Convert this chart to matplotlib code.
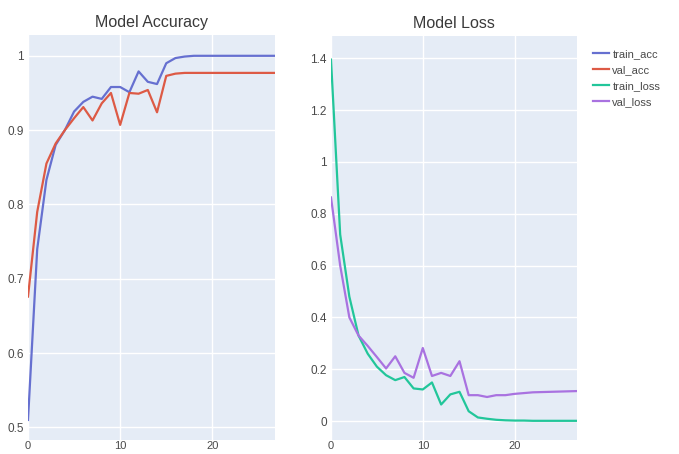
import matplotlib
matplotlib.use("Agg")
import matplotlib.pyplot as plt

# values, one per epoch (0..27)
epochs = list(range(28))

train_acc = [0.51, 0.74, 0.833, 0.88, 0.90, 0.925, 0.938, 0.945, 0.942, 0.958,
             0.958, 0.951, 0.979, 0.965, 0.962, 0.99, 0.997, 0.999, 1.0, 1.0,
             1.0, 1.0, 1.0, 1.0, 1.0, 1.0, 1.0, 1.0]
val_acc = [0.676, 0.79, 0.855, 0.882, 0.90, 0.916, 0.931, 0.913, 0.936, 0.95,
           0.907, 0.95, 0.949, 0.954, 0.924, 0.973, 0.976, 0.977, 0.977, 0.977,
           0.977, 0.977, 0.977, 0.977, 0.977, 0.977, 0.977, 0.977]
train_loss = [1.395, 0.72, 0.48, 0.33, 0.26, 0.21, 0.177, 0.158, 0.17, 0.126,
              0.122, 0.149, 0.064, 0.103, 0.113, 0.038, 0.014, 0.009, 0.005, 0.003,
              0.002, 0.002, 0.001, 0.001, 0.001, 0.001, 0.001, 0.001]
val_loss = [0.863, 0.6, 0.40, 0.33, 0.29, 0.247, 0.203, 0.25, 0.186, 0.167,
            0.282, 0.174, 0.186, 0.174, 0.231, 0.10, 0.10, 0.093, 0.10, 0.10,
            0.105, 0.108, 0.111, 0.112, 0.113, 0.114, 0.115, 0.116]

series_names = ["train_acc", "val_acc", "train_loss", "val_loss"]
colors = ["#6670d0", "#dd5a45", "#22c69a", "#a972e0"]

BG = "#e5ecf6"
TEXT = "#4a4a4a"
FONT = ["Liberation Sans Narrow", "Liberation Sans", "DejaVu Sans"]

plt.rcParams["font.family"] = FONT

fig = plt.figure(figsize=(6.79, 4.54), dpi=100)
fig.patch.set_facecolor("white")

ax_acc = fig.add_axes([28 / 679, 14 / 454, 247 / 679, 405 / 454])
ax_loss = fig.add_axes([331 / 679, 14 / 454, 246 / 679, 404 / 454])

lines = []
lines += ax_acc.plot(epochs, train_acc, color=colors[0], lw=1.6, label=series_names[0])
lines += ax_acc.plot(epochs, val_acc, color=colors[1], lw=1.6, label=series_names[1])
lines += ax_loss.plot(epochs, train_loss, color=colors[2], lw=1.6, label=series_names[2])
lines += ax_loss.plot(epochs, val_loss, color=colors[3], lw=1.6, label=series_names[3])

ax_acc.set_ylim(0.483, 1.028)
ax_acc.set_yticks([0.5, 0.6, 0.7, 0.8, 0.9, 1.0])
ax_acc.set_yticklabels(["0.5", "0.6", "0.7", "0.8", "0.9", "1"])

ax_loss.set_ylim(-0.073, 1.486)
ax_loss.set_yticks([0, 0.2, 0.4, 0.6, 0.8, 1.0, 1.2, 1.4])
ax_loss.set_yticklabels(["0", "0.2", "0.4", "0.6", "0.8", "1", "1.2", "1.4"])

for ax, title in [(ax_acc, "Model Accuracy"), (ax_loss, "Model Loss")]:
    ax.set_facecolor(BG)
    ax.set_xlim(0, 26.8)
    ax.set_xticks([0, 10, 20])
    ax.grid(True, color="white", lw=1.0)
    ax.set_axisbelow(True)
    for spine in ax.spines.values():
        spine.set_visible(False)
    ax.tick_params(length=0, labelsize=8.5, colors=TEXT, pad=3)
    ax.tick_params(axis="x", labelsize=8, pad=1)
    ax.set_title(title, fontsize=11.5, color="#3a3a3a", pad=6)

fig.legend(
    lines,
    series_names,
    loc="upper left",
    bbox_to_anchor=(583 / 679, 1 - 39 / 454),
    frameon=False,
    fontsize=8,
    handlelength=1.45,
    handletextpad=0.3,
    labelspacing=0.55,
    labelcolor=TEXT,
)

fig.savefig("out.png", dpi=100)
